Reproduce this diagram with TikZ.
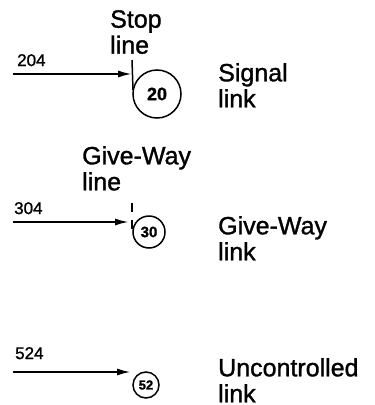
\documentclass[tikz,border=0pt]{standalone}
\usepackage{fontspec}
\setmainfont{Liberation Sans}
\newfontfamily\hv[FakeBold=1.2]{Liberation Sans}
\usetikzlibrary{arrows.meta}
\tikzset{
  lbl/.style={anchor=north west, inner sep=0pt, align=left, font=\hv\fontsize{25}{26}\selectfont},
  num/.style={anchor=north west, inner sep=0pt, font=\hv\fontsize{17}{18}\selectfont},
  linkc/.style={draw, circle, inner sep=0pt, line width=1.5pt},
  flow/.style={line width=2pt, -{Latex[length=14pt,width=7pt]}},
  barline/.style={line width=1.5pt}
}
\begin{document}
\begin{tikzpicture}[x=1pt,y=-1pt]
\useasboundingbox (0,0) rectangle (375,405);
% signal link
\node[lbl] (stoplbl) at (110,10) {Stop\\line};
\node[lbl] (siglbl) at (218,63) {Signal\\link};
\node[num] (n204) at (17,54) {204};
\node[linkc, minimum size=48pt, font=\hv\fontsize{18}{18}\selectfont\bfseries] (c20) at (157,94) {20};
\coordinate (s1) at (13,74);
\coordinate (stop) at (132,74);
\coordinate (stopT) at (132,60);
\coordinate (stopB) at (133,90);
\draw[barline] (stopT) -- (stopB);
\draw[flow] (s1) -- (stop);
% give-way link
\node[lbl] (gwlbl) at (82,146) {Give-Way\\line};
\node[lbl] (gwlink) at (218,216) {Give-Way\\link};
\node[num] (n304) at (14,202) {304};
\node[linkc, minimum size=32pt, font=\hv\fontsize{15}{15}\selectfont\bfseries] (c30) at (149,232) {30};
\coordinate (s2) at (13,222);
\coordinate (gw) at (129,222);
\coordinate (gwT) at (132,203);
\coordinate (gwB) at (132,229);
\draw[barline, dash pattern=on 9pt off 8pt] (gwT) -- (gwB);
\draw[flow] (s2) -- (gw);
% uncontrolled link
\node[lbl] (unlbl) at (218,358) {Uncontrolled\\link};
\node[num] (n524) at (15,347) {524};
\node[linkc, minimum size=26pt, font=\hv\fontsize{13}{13}\selectfont\bfseries] (c52) at (146,385) {52};
\coordinate (s3) at (13,372);
\coordinate (u) at (131,372);
\draw[flow] (s3) -- (u);
\end{tikzpicture}
\end{document}
